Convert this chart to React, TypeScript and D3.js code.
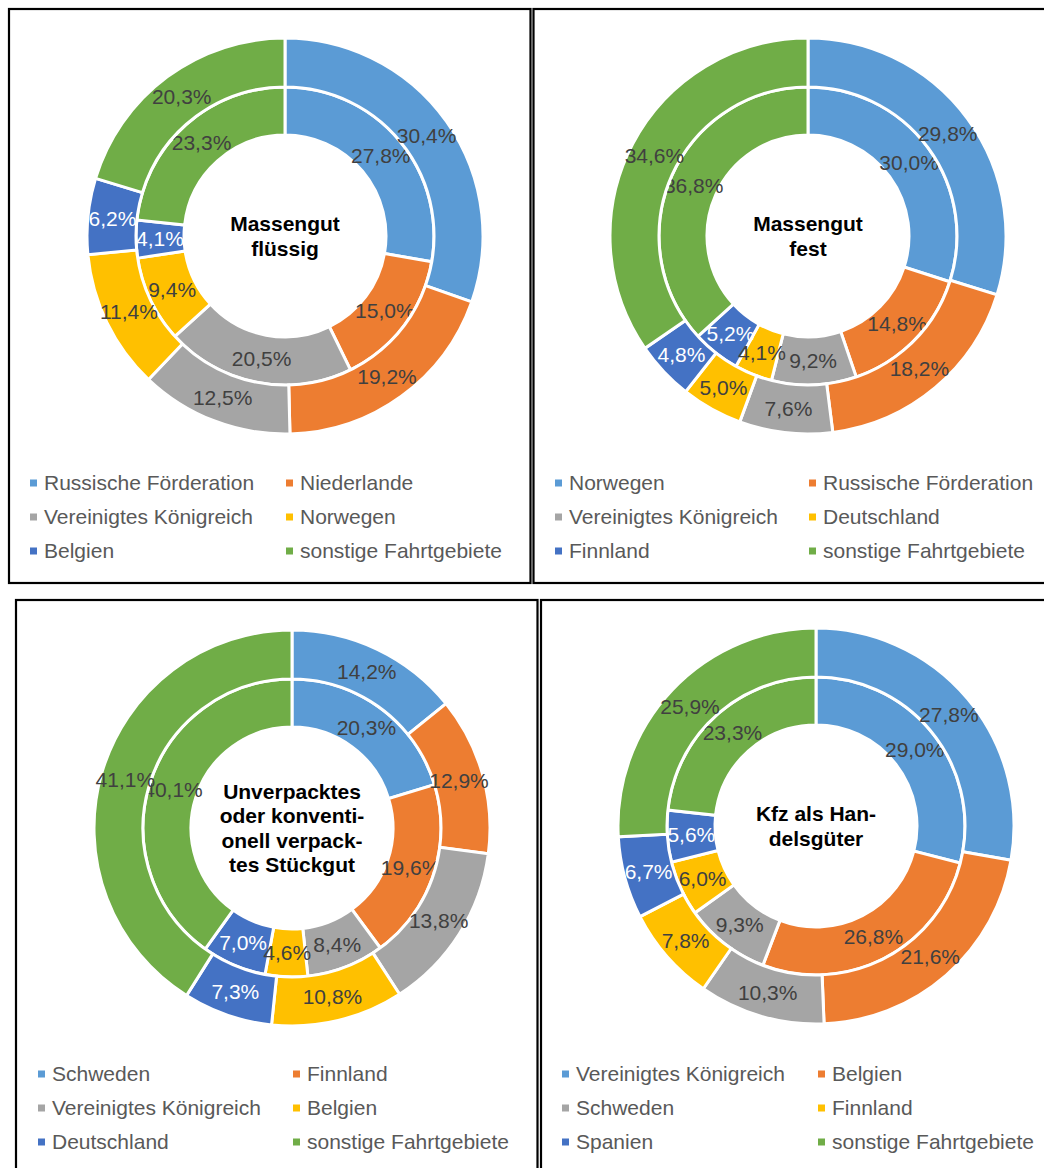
import * as d3 from "d3";

// categories and shares (inner ring / outer ring)
const catsFluessig = ["Russische Förderation", "Niederlande", "Vereinigtes Königreich", "Norwegen", "Belgien", "sonstige Fahrtgebiete"];
const innerFluessig = [27.8, 15.0, 20.5, 9.4, 4.1, 23.3];
const outerFluessig = [30.4, 19.2, 12.5, 11.4, 6.2, 20.3];

const catsFest = ["Norwegen", "Russische Förderation", "Vereinigtes Königreich", "Deutschland", "Finnland", "sonstige Fahrtgebiete"];
const innerFest = [30.0, 14.8, 9.2, 4.1, 5.2, 36.8];
const outerFest = [29.8, 18.2, 7.6, 5.0, 4.8, 34.6];

const catsStueck = ["Schweden", "Finnland", "Vereinigtes Königreich", "Belgien", "Deutschland", "sonstige Fahrtgebiete"];
const innerStueck = [20.3, 19.6, 8.4, 4.6, 7.0, 40.1];
const outerStueck = [14.2, 12.9, 13.8, 10.8, 7.3, 41.1];

const catsKfz = ["Vereinigtes Königreich", "Belgien", "Schweden", "Finnland", "Spanien", "sonstige Fahrtgebiete"];
const innerKfz = [29.0, 26.8, 9.3, 6.0, 5.6, 23.3];
const outerKfz = [27.8, 21.6, 10.3, 7.8, 6.7, 25.9];

const colors = ["#5B9BD5", "#ED7D31", "#A5A5A5", "#FFC000", "#4472C4", "#70AD47"];

const panels = [
  {
    title: ["Massengut", "flüssig"], cats: catsFluessig, inner: innerFluessig, outer: outerFluessig,
    box: [9, 9, 530.5, 583], cx: 285, cy: 236, legendX: [30, 286], legendY: [483, 517, 551],
  },
  {
    title: ["Massengut", "fest"], cats: catsFest, inner: innerFest, outer: outerFest,
    box: [533.5, 9, 1052, 583], cx: 808, cy: 236, legendX: [555, 809], legendY: [483, 517, 551],
  },
  {
    title: ["Unverpacktes", "oder konventi-", "onell verpack-", "tes Stückgut"], cats: catsStueck, inner: innerStueck, outer: outerStueck,
    box: [16, 600, 537.5, 1180], cx: 292, cy: 828, legendX: [38, 293], legendY: [1074, 1108, 1142],
  },
  {
    title: ["Kfz als Han-", "delsgüter"], cats: catsKfz, inner: innerKfz, outer: outerKfz,
    box: [541, 600, 1052, 1180], cx: 816, cy: 826, legendX: [562, 818], legendY: [1074, 1108, 1142],
  },
];

const font = "'Liberation Sans', Arial, sans-serif";
const fmt = (v: number) => v.toFixed(1).replace(".", ",") + "%";

const pie = d3.pie<number>().sort(null).value((d) => d);
const innerArc = d3.arc<d3.PieArcDatum<number>>().innerRadius(101).outerRadius(149);
const outerArc = d3.arc<d3.PieArcDatum<number>>().innerRadius(149).outerRadius(198);

function Ring({ values, arc }) {
  const color = d3.scaleOrdinal<number, string>().domain(d3.range(6)).range(colors);
  const arcs = pie(values);
  return (
    <g>
      {arcs.map((a, i) => (
        <path key={i} d={arc(a)!} fill={color(i)} stroke="#fff" strokeWidth={3} />
      ))}
      {arcs.map((a, i) => {
        const [x, y] = arc.centroid(a);
        return (
          <text key={"t" + i} x={x} y={y} dy="0.35em" textAnchor="middle" fontSize={21}
            fill={i === 4 ? "#fff" : "#404040"}>
            {fmt(a.data)}
          </text>
        );
      })}
    </g>
  );
}

function Panel({ p }) {
  const [x1, y1, x2, y2] = p.box;
  const lh = 24.5;
  const t0 = -((p.title.length - 1) * lh) / 2;
  return (
    <g fontFamily={font}>
      <rect x={x1} y={y1} width={x2 - x1} height={y2 - y1} fill="#fff" stroke="#000" strokeWidth={2.2} />
      <g transform={`translate(${p.cx},${p.cy})`}>
        <Ring values={p.inner} arc={innerArc} />
        <Ring values={p.outer} arc={outerArc} />
        {p.title.map((l, i) => (
          <text key={i} x={0} y={t0 + i * lh} dy="0.35em" textAnchor="middle" fontSize={21} fontWeight="bold" fill="#000">
            {l}
          </text>
        ))}
      </g>
      {p.cats.map((c, i) => {
        const lx = p.legendX[i % 2];
        const ly = p.legendY[Math.floor(i / 2)];
        return (
          <g key={c}>
            <rect x={lx} y={ly - 3.5} width={7} height={7} fill={colors[i]} />
            <text x={lx + 14} y={ly} dy="0.35em" fontSize={21} fill="#595959">{c}</text>
          </g>
        );
      })}
    </g>
  );
}

export default function App() {
  return (
    <svg width={1044} height={1168} style={{ position: "absolute", left: 0, top: 0, background: "#fff" }}>
      <rect width={1044} height={1168} fill="#fff" />
      {panels.map((p, i) => (
        <Panel key={i} p={p} />
      ))}
    </svg>
  );
}
